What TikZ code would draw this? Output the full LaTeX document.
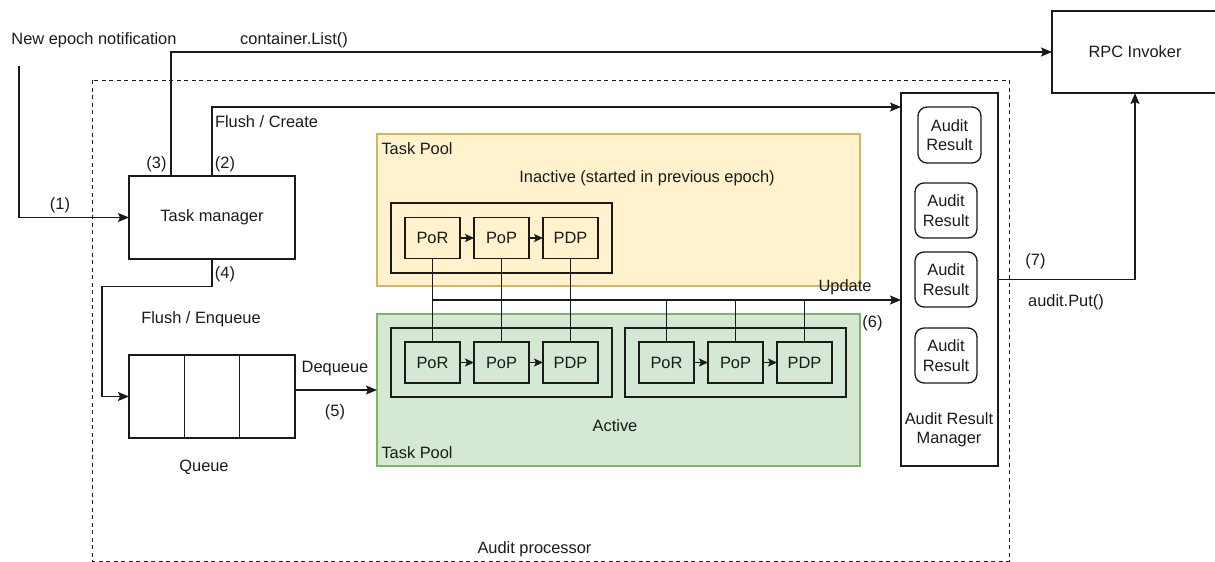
\documentclass[tikz,border=0pt]{standalone}
\usepackage{fontspec}
\setmainfont{Liberation Sans}
\usetikzlibrary{arrows.meta,calc}

\definecolor{inkline}{HTML}{1A1A1A}
\definecolor{poolyellow}{HTML}{FFF2CC}
\definecolor{poolyellowedge}{HTML}{D6B656}
\definecolor{poolgreen}{HTML}{D5E8D4}
\definecolor{poolgreenedge}{HTML}{82B366}

\tikzset{
  every node/.style={font=\fontsize{16.4}{19.3}\selectfont, text=inkline, inner sep=0pt, outer sep=0pt},
  box/.style={draw=inkline, line width=1.3pt, rectangle},
  mainbox/.style={box, minimum width=166pt, minimum height=83pt},
  taskbox/.style={box, minimum width=55pt, minimum height=41pt},
  groupbox/.style={box, minimum width=221pt, minimum height=69pt},
  resultbox/.style={box, rounded corners=9pt, minimum width=62pt, minimum height=55pt, align=center},
  pool/.style={rectangle, line width=1.3pt, minimum width=483pt, minimum height=152pt},
  wire/.style={draw=inkline, line width=1.3pt},
  arr/.style={wire, -{Stealth[length=11pt,width=9pt,inset=2pt]}},
  smallarr/.style={wire, -{Stealth[length=9pt,width=8pt,inset=2pt]}},
  txt/.style={},
}

\begin{document}
\begin{tikzpicture}[x=1pt,y=-1pt]
\useasboundingbox (0,0) rectangle (1215,562);
\clip (0,0) rectangle (1215,562);

% audit processor boundary
\draw[inkline, line width=1pt, dash pattern=on 4pt off 3.5pt] (92,80) rectangle (1009,561);
\node[txt] (procname) at (534.5,549) {Audit processor};

% task pools
\node[pool, fill=poolyellow, draw=poolyellowedge] (yp) at (618.5,210) {};
\node[pool, fill=poolgreen, draw=poolgreenedge] (gp) at (618.5,390) {};
\node[txt, anchor=west] (yptitle) at (381.5,149) {Task Pool};
\node[txt] (ypsub) at (647,178) {Inactive (started in previous epoch)};
\node[txt, anchor=west] (gptitle) at (381.5,452.5) {Task Pool};
\node[txt] (gpsub) at (615,425.5) {Active};

% main components
\node[mainbox] (tm) at (212,217.5) {Task manager};
\node[mainbox] (q) at (212,396.5) {};
\draw[wire] ($(q.north west)!1/3!(q.north east)$) -- ($(q.south west)!1/3!(q.south east)$);
\draw[wire] ($(q.north west)!2/3!(q.north east)$) -- ($(q.south west)!2/3!(q.south east)$);
\node[txt] (qname) at (204,467) {Queue};
% the invoker box runs past the right edge of the page
\node[box, minimum width=180pt, minimum height=82pt, anchor=west] (rpc) at (1052,52) {\hspace*{-14pt}RPC Invoker};

% audit result manager
\node[box, minimum width=97pt, minimum height=373pt] (arm) at (949.5,279.5) {};
\node[txt, align=center] (armname) at (949,430) {Audit Result\\Manager};
\node[resultbox, minimum width=63pt, minimum height=56pt] (r1) at (949.5,135) {Audit\\Result};
\node[resultbox] (r2) at (946,210.5) {Audit\\Result};
\node[resultbox] (r3) at (946,279.5) {Audit\\Result};
\node[resultbox] (r4) at (946,355.5) {Audit\\Result};

% inactive task chain
\node[groupbox, minimum height=70pt] (ig) at (501.5,238) {};
\node[taskbox] (ipor) at (432.5,238) {PoR};
\node[taskbox] (ipop) at (501.5,238) {PoP};
\node[taskbox] (ipdp) at (570.5,238) {PDP};
\draw[smallarr] (ipor) -- (ipop);
\draw[smallarr] (ipop) -- (ipdp);

% active task chains
\node[groupbox] (ag) at (501.5,362.5) {};
\node[taskbox] (apor) at (432.5,362.5) {PoR};
\node[taskbox] (apop) at (501.5,362.5) {PoP};
\node[taskbox] (apdp) at (570.5,362.5) {PDP};
\draw[smallarr] (apor) -- (apop);
\draw[smallarr] (apop) -- (apdp);

\node[groupbox] (bg) at (735.5,362.5) {};
\node[taskbox] (bpor) at (666.5,362.5) {PoR};
\node[taskbox] (bpop) at (735.5,362.5) {PoP};
\node[taskbox] (bpdp) at (804.5,362.5) {PDP};
\draw[smallarr] (bpor) -- (bpop);
\draw[smallarr] (bpop) -- (bpdp);

% update bus
\coordinate (bus) at (432.5,300);
\draw[wire] (ipor.south) -- (apor.north);
\draw[wire] (ipop.south) -- (apop.north);
\draw[wire] (ipdp.south) -- (apdp.north);
\draw[wire] (bpor.north) -- (bpor.north |- bus);
\draw[wire] (bpop.north) -- (bpop.north |- bus);
\draw[wire] (bpdp.north) -- (bpdp.north |- bus);
\draw[arr] (bus) -- (bus -| arm.west);
\node[txt] (updlbl) at (845,287) {Update};
\node[txt] (l6) at (872.5,323) {(6)};

% (1) new epoch
\coordinate (epoch) at (19,66);
\node[txt] (epochlbl) at (94,40) {New epoch notification};
\draw[arr] (epoch) |- (tm.west);
\node[txt] (l1) at (60,205) {(1)};

% (2) flush / create
\coordinate (c2) at (212,107);
\draw[arr] (tm.north) -- (c2) -- (c2 -| arm.west);
\node[txt] (l2) at (225,164) {(2)};
\node[txt] (fclbl) at (266.5,121.5) {Flush / Create};

% (3) container list
\coordinate (c3) at (171,176);
\draw[arr] (c3) |- (rpc.west);
\node[txt] (l3) at (156.5,164) {(3)};
\node[txt] (cllbl) at (294,40) {container.List()};

% (4) flush / enqueue
\coordinate (c4) at (102,286.5);
\draw[arr] (tm.south) -- (tm.south |- c4) -- (c4) |- (q.west);
\node[txt] (l4) at (225,274) {(4)};
\node[txt] (felbl) at (201,319) {Flush / Enqueue};

% (5) dequeue
\coordinate (c5) at ($(q.east)+(0,-6.5)$);
\draw[arr] (c5) -- (c5 -| gp.west);
\node[txt] (dqlbl) at (335,369) {Dequeue};
\node[txt] (l5) at (335,412) {(5)};

% (7) audit put
\coordinate (c7) at (1135,279.5);
\draw[arr] (arm.east) -- (c7) -- (c7 |- rpc.south);
\node[txt] (l7) at (1035.5,261) {(7)};
\node[txt] (putlbl) at (1066,302) {audit.Put()};
\end{tikzpicture}
\end{document}
